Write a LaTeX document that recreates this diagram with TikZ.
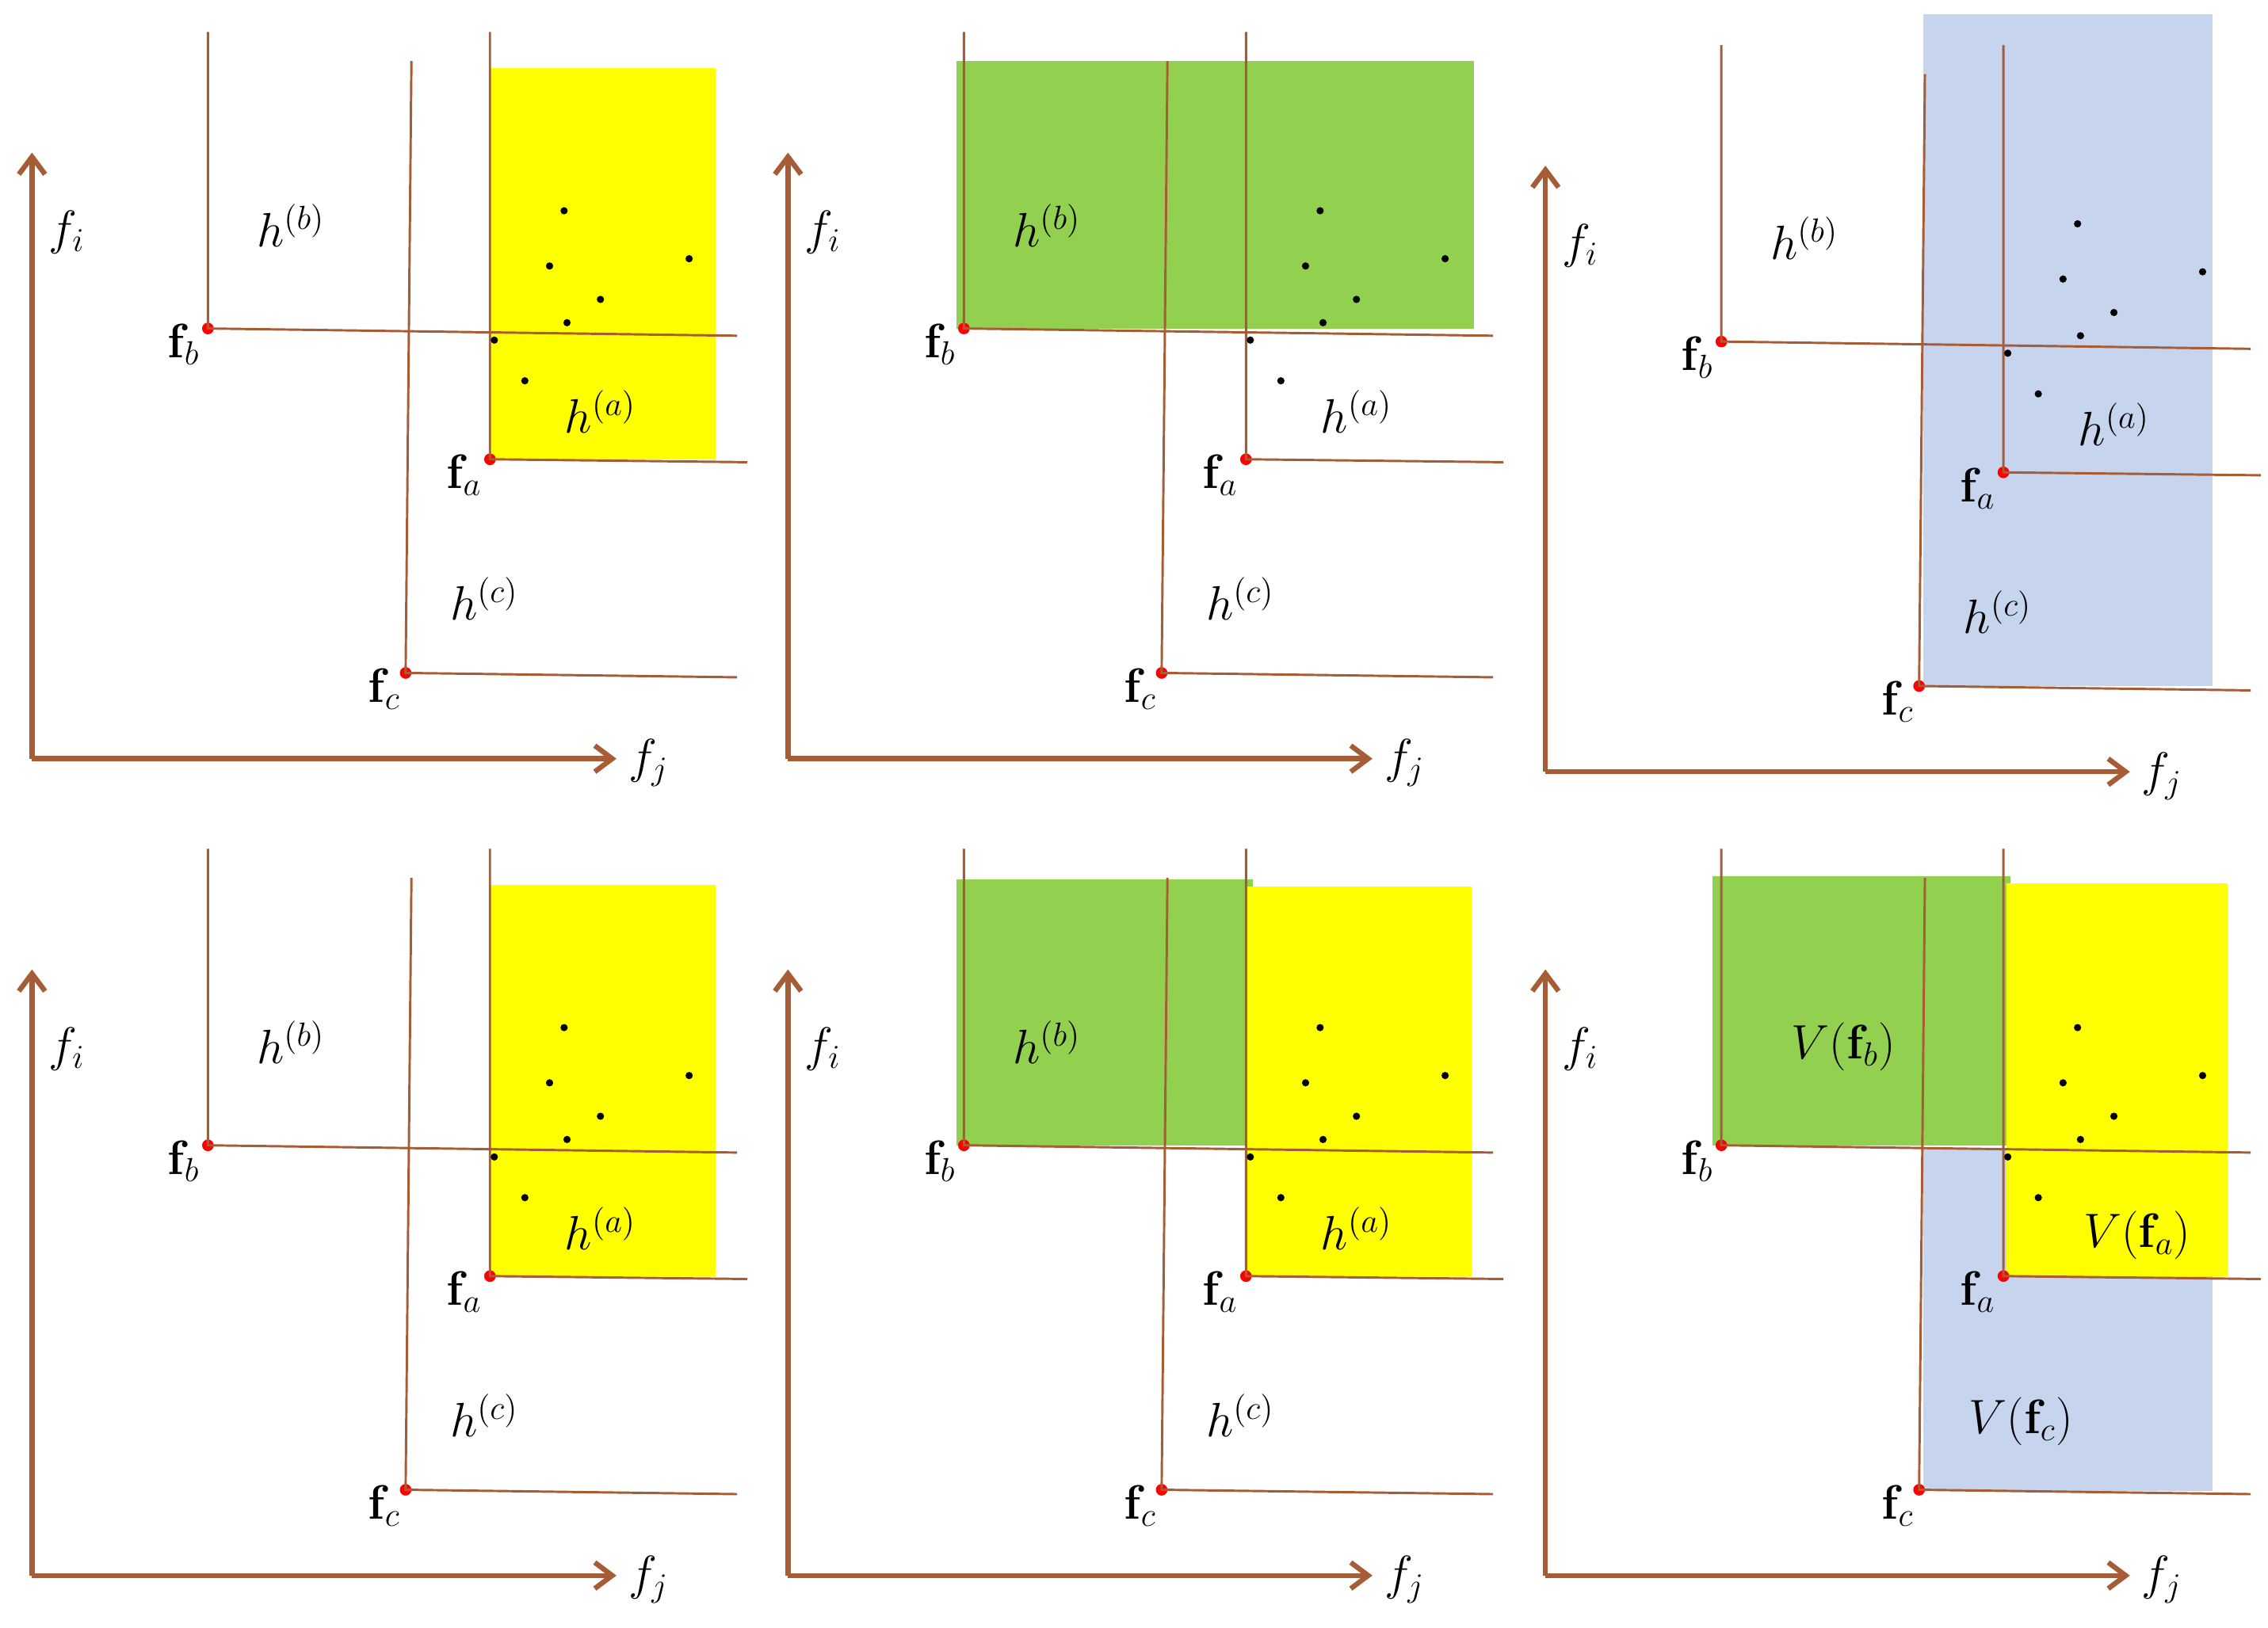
\documentclass[tikz,border=0pt]{standalone}
\usetikzlibrary{arrows.meta}
\begin{document}
\definecolor{br}{RGB}{166,92,52}
\definecolor{yel}{RGB}{255,255,0}
\definecolor{grn}{RGB}{146,208,80}
\definecolor{blu}{RGB}{198,212,238}
\tikzset{
 axis/.style={br,line width=3.5pt,-{Straight Barb[length=12pt,width=18pt,line width=3.5pt]}},
 bnd/.style={br,line width=1.6pt},
 pt/.style={circle,fill=red,inner sep=0pt,minimum size=8pt},
 dot/.style={circle,fill=black,inner sep=0pt,minimum size=5pt},
 lab/.style={font=\fontsize{20}{24}\selectfont,scale=1.6},
}
\newcommand\onepanel[6]{%
\begin{scope}[shift={(#2,#3)}]
#4
\node[pt] (fb#1) at (143,226) {};
\node[pt] (fa#1) at (337,316) {};
\node[pt] (fc#1) at (279,463) {};
\coordinate (bt#1) at (143,22); \coordinate (br#1) at (507,231);
\coordinate (at#1) at (337,22); \coordinate (ar#1) at (514,318);
\coordinate (ct#1) at (283,42); \coordinate (cr#1) at (507,466);
\draw[bnd] (bt#1) -- (fb#1.center) -- (br#1);
\draw[bnd] (at#1) -- (fa#1.center) -- (ar#1);
\draw[bnd] (ct#1) -- (fc#1.center) -- (cr#1);
\coordinate (o#1) at (22,522);
\coordinate (yi#1) at (22,105);
\coordinate (xj#1) at (424,522);
\draw[axis] (o#1) -- (yi#1);
\draw[axis] (o#1) -- (xj#1);
\node[lab] (li#1) at (46,160) {$f_i$};
\node[lab] (lj#1) at (446,525) {$f_j$};
\node[lab,anchor=east] (lb#1) at (143,237) {$\mathbf{f}_b$};
\node[lab,anchor=east] (la#1) at (337,327) {$\mathbf{f}_a$};
\node[lab,anchor=east] (lc#1) at (281,474) {$\mathbf{f}_c$};
#5
\foreach \x/\y [count=\k] in {388/145,378/183,474/178,413/206,390/222,340/234,361/262}
  \node[dot] (d#1\k) at (\x,\y) {};
#6
\end{scope}}
\newcommand\hlabels[1]{%
\node[lab] (hb#1) at (200,155) {$h^{(b)}$};
\node[lab] (ha#1) at (413,283) {$h^{(a)}$};
\node[lab] (hc#1) at (333,412) {$h^{(c)}$};}
\begin{tikzpicture}[x=1pt,y=-1pt]
\useasboundingbox (0,0) rectangle (1560,1120);
\onepanel{p}{0}{0}{\fill[yel] (337,47) rectangle (492,316);}{\hlabels{p}}{}
\onepanel{q}{520}{0}{\fill[grn] (138,42) rectangle (494,226);}{\hlabels{q}}{}
\onepanel{r}{1041}{9}{\fill[blu] (282,1) rectangle (481,463);}{\hlabels{r}}{}
\onepanel{s}{0}{562}{\fill[yel] (337,47) rectangle (492,316);}{\hlabels{s}}{}
\onepanel{t}{520}{562}{\fill[grn] (138,43) rectangle (342,226);\fill[yel] (337,48) rectangle (492,316);}{\hlabels{t}}{}
\onepanel{u}{1041}{562}{\fill[grn] (137,41) rectangle (342,226);\fill[blu] (282,228) rectangle (481,464);\fill[yel] (339,46) rectangle (491,316);}{%
\node[lab] (vb) at (227,158) {$V(\mathbf{f}_b)$};
\node[lab] (va) at (429,288) {$V(\mathbf{f}_a)$};
\node[lab] (vc) at (349,416) {$V(\mathbf{f}_c)$};}{}
\end{tikzpicture}
\end{document}
